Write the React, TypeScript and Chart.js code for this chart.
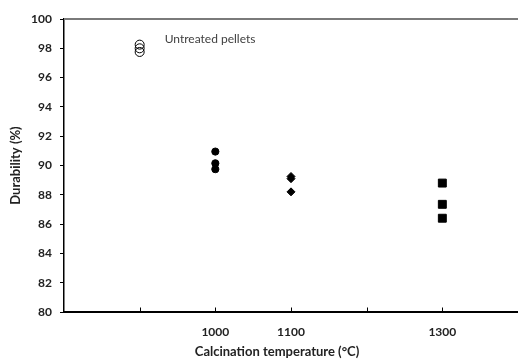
import React, { useEffect, useRef } from "react";
import { Chart, registerables } from "chart.js";

Chart.register(...registerables);

const untreatedX = [900, 900, 900];
const untreatedY = [98.25, 98.0, 97.75];
const t1000X = [1000, 1000, 1000];
const t1000Y = [90.95, 90.15, 89.75];
const t1100X = [1100, 1100, 1100];
const t1100Y = [89.25, 89.1, 88.2];
const t1300X = [1300, 1300, 1300];
const t1300Y = [88.8, 87.35, 86.4];

const xLabeled = [1000, 1100, 1300];
const xTickMarks = [900, 1000, 1100, 1200, 1300];
const annotationText = "Untreated pellets";
const annotationAt = { x: 933, y: 98.62 };
const xTitle = "Calcination temperature (°C)";
const yTitle = "Durability (%)";

const FONT = "Lato, 'Open Sans', sans-serif";

const pts = (xs: number[], ys: number[]) => xs.map((x, i) => ({ x, y: ys[i] }));

const extras = {
  id: "extras",
  afterDraw(chart: any) {
    const { ctx, chartArea, scales } = chart;
    const xs = scales.x;
    ctx.save();
    ctx.strokeStyle = "#7a7a7a";
    ctx.lineWidth = 2;
    ctx.beginPath();
    ctx.moveTo(chartArea.left, chartArea.top);
    ctx.lineTo(chart.width, chartArea.top);
    ctx.stroke();
    ctx.strokeStyle = "#000";
    ctx.lineWidth = 1;
    xTickMarks.forEach((v) => {
      const px = Math.round(xs.getPixelForValue(v)) + 0.5;
      ctx.beginPath();
      ctx.moveTo(px, chartArea.bottom);
      ctx.lineTo(px, chartArea.bottom - 4.5);
      ctx.stroke();
    });
    ctx.fillStyle = "#404040";
    ctx.font = `12px ${FONT}`;
    ctx.textAlign = "left";
    ctx.textBaseline = "middle";
    ctx.fillText(
      annotationText,
      xs.getPixelForValue(annotationAt.x),
      scales.y.getPixelForValue(annotationAt.y)
    );
    ctx.fillStyle = "#222";
    ctx.font = `bold 13px ${FONT}`;
    ctx.textAlign = "center";
    ctx.fillText(xTitle, 277, 352);
    ctx.restore();
  },
};

export default function App() {
  const ref = useRef<HTMLCanvasElement | null>(null);
  useEffect(() => {
    if (!ref.current) return;
    const common = { showLine: false, borderColor: "#000", borderWidth: 1 };
    const chart = new Chart(ref.current, {
      type: "scatter",
      data: {
        datasets: [
          {
            ...common,
            label: "Untreated",
            data: pts(untreatedX, untreatedY),
            pointStyle: "circle",
            pointRadius: 4.5,
            backgroundColor: "rgba(255,255,255,0)",
          },
          {
            ...common,
            label: "1000",
            data: pts(t1000X, t1000Y),
            pointStyle: "circle",
            pointRadius: 3.6,
            backgroundColor: "#000",
          },
          {
            ...common,
            label: "1100",
            data: pts(t1100X, t1100Y),
            pointStyle: "rectRot",
            pointRadius: 4,
            backgroundColor: "#000",
          },
          {
            ...common,
            label: "1300",
            data: pts(t1300X, t1300Y),
            pointStyle: "rect",
            pointRadius: 5.6,
            backgroundColor: "#000",
          },
        ],
      },
      options: {
        responsive: false,
        animation: false,
        layout: { autoPadding: false, padding: { top: 19, right: 0, left: 0, bottom: 0 } },
        plugins: { legend: { display: false }, tooltip: { enabled: false } },
        scales: {
          x: {
            type: "linear",
            min: 800,
            max: 1400,
            grid: { display: false },
            border: { display: true, color: "#000", width: 2 },
            afterFit: (s: any) => {
              s.height = 48;
              s.paddingLeft = 0;
              s.paddingRight = 0;
            },
            afterBuildTicks: (s: any) => {
              s.ticks = [800, 900, 1000, 1100, 1200, 1300, 1400].map((v) => ({ value: v }));
            },
            ticks: {
              autoSkip: false,
              maxRotation: 0,
              padding: 5,
              color: "#222",
              font: { family: FONT, size: 12, weight: "bold" },
              callback: (v: any) => (xLabeled.includes(Number(v)) ? String(v) : ""),
            },
          },
          y: {
            type: "linear",
            min: 80,
            max: 100,
            grid: { drawOnChartArea: false, drawTicks: true, tickLength: 4, color: "#000" },
            border: { display: true, color: "#000", width: 1.5 },
            afterFit: (s: any) => {
              s.width = 64;
            },
            ticks: {
              stepSize: 2,
              padding: 8,
              color: "#222",
              font: { family: FONT, size: 12, weight: "bold" },
            },
            title: {
              display: true,
              text: yTitle,
              color: "#222",
              font: { family: FONT, size: 13, weight: "bold" },
              padding: { top: 8, bottom: 0 },
            },
          },
        },
      },
      plugins: [extras],
    } as any);
    return () => chart.destroy();
  }, []);
  return (
    <div style={{ position: "absolute", left: 0, top: 0, width: 518, height: 360, background: "#fff" }}>
      <canvas ref={ref} width={518} height={360} />
    </div>
  );
}
